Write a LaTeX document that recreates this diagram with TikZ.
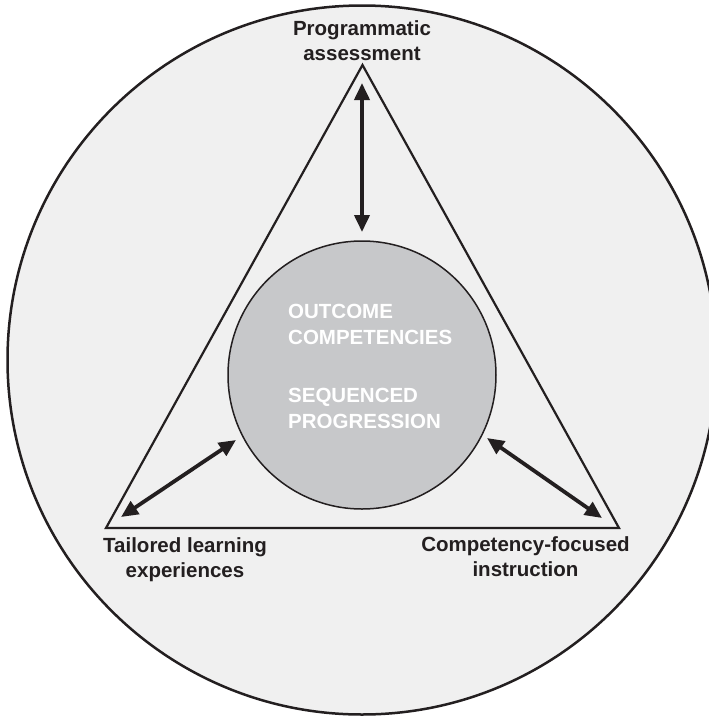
\documentclass[tikz,border=0pt]{standalone}
\usepackage{fontspec}
\setmainfont{Liberation Sans}
\usetikzlibrary{arrows.meta}

\definecolor{ink}{HTML}{231F20}
\definecolor{outerfill}{HTML}{F0F0F0}
\definecolor{corefill}{HTML}{C7C8CA}

\tikzset{
  outerring/.style={draw=ink, line width=2.5pt, fill=outerfill},
  frame/.style={draw=ink, line width=2.2pt, line join=miter},
  core/.style={circle, draw=ink, line width=1.5pt, fill=corefill, minimum size=268pt, inner sep=0pt},
  label/.style={inner sep=0pt, align=center, text=ink,
    font=\bfseries\fontsize{20.5}{25}\selectfont},
  corelabel/.style={inner sep=0pt, align=left, text=white,
    font=\bfseries\fontsize{20.5}{26}\selectfont},
  link/.style={draw=ink, line width=3.8pt,
    {Triangle[length=17pt,width=15pt]}-{Triangle[length=17pt,width=15pt]}}
}

\begin{document}
\begin{tikzpicture}[x=1pt, y=-1pt]
  \useasboundingbox (0,0) rectangle (709,716);
  \begin{scope}
    \clip (0,0) rectangle (709,716);
    % outer circle
    \fill[outerring] (362,360) circle (354.5);
  \end{scope}

  % triangle of the three components
  \coordinate (apex) at (362.5,65);
  \coordinate (left) at (106,528);
  \coordinate (right) at (619,528);
  \draw[frame] (apex) -- (left) -- (right) -- cycle;

  % central circle (base anchors sit on the last line of each label)
  \node[core] (core) at (362,375) {};
  \node[corelabel, anchor=base west] (outcome) at (288,344) {OUTCOME\\COMPETENCIES};
  \node[corelabel, anchor=base west] (sequence) at (288,428) {SEQUENCED\\PROGRESSION};

  % labels at the corners
  \node[label, anchor=base] (assess) at (362,60) {Programmatic\\assessment};
  \node[label, anchor=base] (tailored) at (185,577) {Tailored learning\\experiences};
  \node[label, anchor=base] (instruct) at (525.5,576) {Competency-focused\\instruction};

  % arrow end points near the corners
  \coordinate (topend) at (362,83);
  \coordinate (leftend) at (121,517);
  \coordinate (rightend) at (602,518);
  \coordinate (topcore) at (362,232);
  \coordinate (leftcore) at (236,440);
  \coordinate (rightcore) at (487,438);

  \draw[link] (topend) -- (topcore);
  \draw[link] (leftend) -- (leftcore);
  \draw[link] (rightend) -- (rightcore);
\end{tikzpicture}
\end{document}
